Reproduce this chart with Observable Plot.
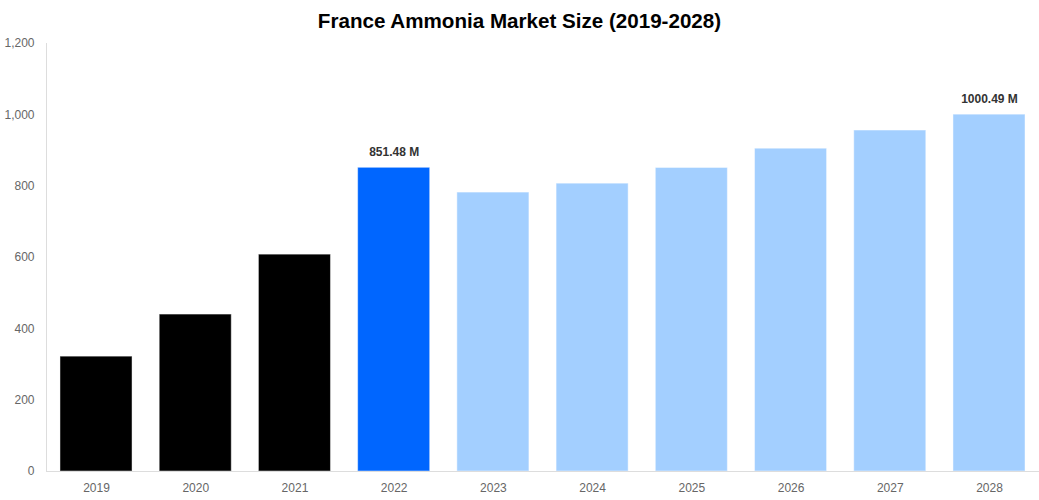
<!DOCTYPE html>
<html>
<head>
<meta charset="utf-8">
<script src="https://cdn.jsdelivr.net/npm/d3@7"></script>
<script src="https://cdn.jsdelivr.net/npm/@observablehq/plot@0.6"></script>
<style>
  html, body { margin: 0; padding: 0; background: #fff; }
  #title { width: 1039px; height: 36px; line-height: 42px; text-align: center;
    font-family: "Liberation Sans", Arial, sans-serif; font-weight: bold; font-size: 20.6px; color: #000; }
</style>
</head>
<body>
<div id="title">France Ammonia Market Size (2019-2028)</div>
<div id="chart"></div>
<script>
const years = ["2019","2020","2021","2022","2023","2024","2025","2026","2027","2028"];
const values = [322, 440, 608, 851.48, 782, 807, 851, 905, 956, 1000.49];
const kinds = ["hist","hist","hist","current","forecast","forecast","forecast","forecast","forecast","forecast"];
const labels = ["","","","851.48 M","","","","","","1000.49 M"];
const yTicks = [0, 200, 400, 600, 800, 1000, 1200];

const data = years.map((y, i) => ({year: y, value: values[i], kind: kinds[i], label: labels[i]}));

const chart = Plot.plot({
  width: 1039,
  height: 464,
  marginTop: 7,
  marginBottom: 29,
  marginLeft: 46,
  marginRight: 0,
  style: {fontFamily: "'Liberation Sans', Arial, sans-serif", fontSize: "12px", color: "#666"},
  x: {domain: years, paddingInner: 0.274, paddingOuter: 0.141, round: false, label: null, tickSize: 0, tickPadding: 12},
  y: {domain: [0, 1200], ticks: yTicks, tickFormat: d3.format(","), label: null, tickSize: 0, tickPadding: 12},
  color: {domain: ["hist","current","forecast"], range: ["#000000","#0066ff","#a3cfff"]},
  marks: [
    Plot.frame({anchor: "left", stroke: "#ddd"}),
    Plot.barY(data, {x: "year", y: "value", fill: "kind", stroke: "white", strokeOpacity: 0.45, strokeWidth: 1}),
    Plot.ruleY([0], {stroke: "#ddd"}),
    Plot.text(data.filter(d => d.label), {x: "year", y: "value", text: "label", dy: -16,
      fontWeight: "bold", fontSize: 12, fill: "#333"})
  ]
});
document.getElementById("chart").appendChild(chart);
</script>
</body>
</html>
